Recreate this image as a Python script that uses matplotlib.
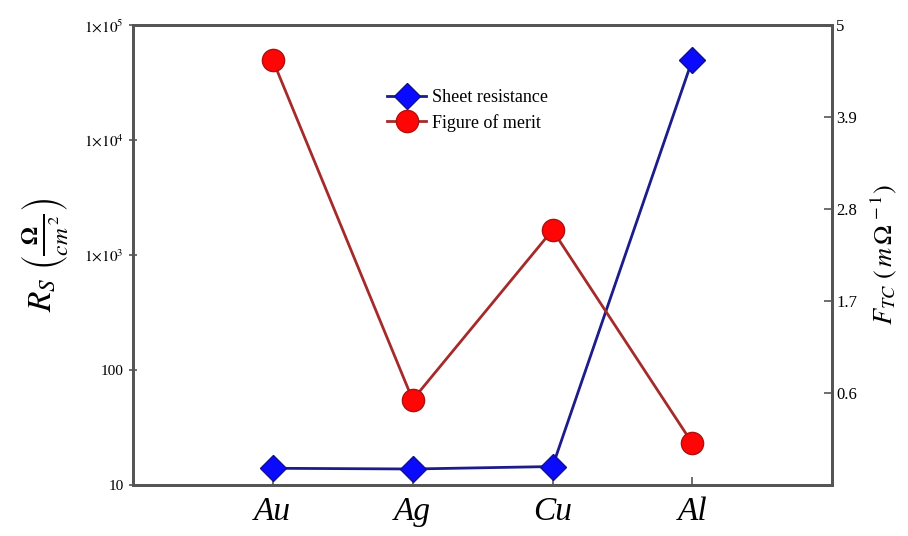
import matplotlib
matplotlib.use("Agg")
import matplotlib.pyplot as plt

categories = ["Au", "Ag", "Cu", "Al"]
sheet_resistance = [14.0, 13.8, 14.5, 5.0e4]
figure_of_merit = [4.58, 0.52, 2.55, 0.0]
left_ticks = [10, 100, 1e3, 1e4, 1e5]
left_labels = ["10", "100", r"$1{\times}10^{3}$", r"$1{\times}10^{4}$", r"$1{\times}10^{5}$"]
right_ticks = [0.6, 1.7, 2.8, 3.9, 5]
right_labels = ["0.6", "1.7", "2.8", "3.9", "5"]

plt.rcParams["font.family"] = ["Liberation Serif", "DejaVu Serif"]
plt.rcParams["mathtext.fontset"] = "stix"

fig = plt.figure(figsize=(9.08, 5.36), dpi=100)
ax = fig.add_axes([0.1465, 0.095, 0.77, 0.858])
ax2 = ax.twinx()

x = list(range(len(categories)))
l1, = ax.plot(x, sheet_resistance, color="#1c1c8a", lw=2, marker="D", ms=13,
              mfc="#0a0aff", mec="#101090", mew=1, zorder=3, label="Sheet resistance")
l2, = ax2.plot(x, figure_of_merit, color="#a52a2a", lw=2, marker="o", ms=16,
               mfc="#ff0505", mec="#b01010", mew=1, zorder=3, label="Figure of merit")

ax.set_yscale("log")
ax.set_ylim(10, 1e5)
ax.set_xlim(-1, 4)
ax2.set_ylim(-0.5, 5)
ax.set_yticks(left_ticks)
ax.set_yticklabels(left_labels)
ax.yaxis.set_minor_locator(matplotlib.ticker.NullLocator())
ax2.set_yticks(right_ticks)
ax2.set_yticklabels(right_labels)
ax.set_xticks(x)
ax.set_xticklabels(categories, fontsize=24, style="italic")

for a in (ax, ax2):
    for s in a.spines.values():
        s.set_color("#555555")
        s.set_linewidth(2)

ax.tick_params(axis="y", labelsize=11, direction="inout", length=6, width=1.2, color="#555555")
ax.tick_params(axis="x", direction="in", length=6, width=1.2, color="#555555", pad=8)
ax2.tick_params(axis="y", labelsize=12, direction="in", length=6, width=1.2, color="#555555", pad=3)

ax.set_ylabel(r"$R_S\ \left(\frac{\mathbf{\Omega}}{cm^{\,2}}\right)$", fontsize=24, labelpad=10)
ax2.set_ylabel(r"$F_{TC}\ \left(\,m\,\Omega^{\,-1}\right)$", fontsize=19, labelpad=8)

ax2.legend([l1, l2], ["Sheet resistance", "Figure of merit"], loc="upper left",
           bbox_to_anchor=(0.35, 0.88), frameon=False, fontsize=13,
           handlelength=2.2, handletextpad=0.3, borderpad=0, labelspacing=0.4)

fig.savefig("out.png", dpi=100)
